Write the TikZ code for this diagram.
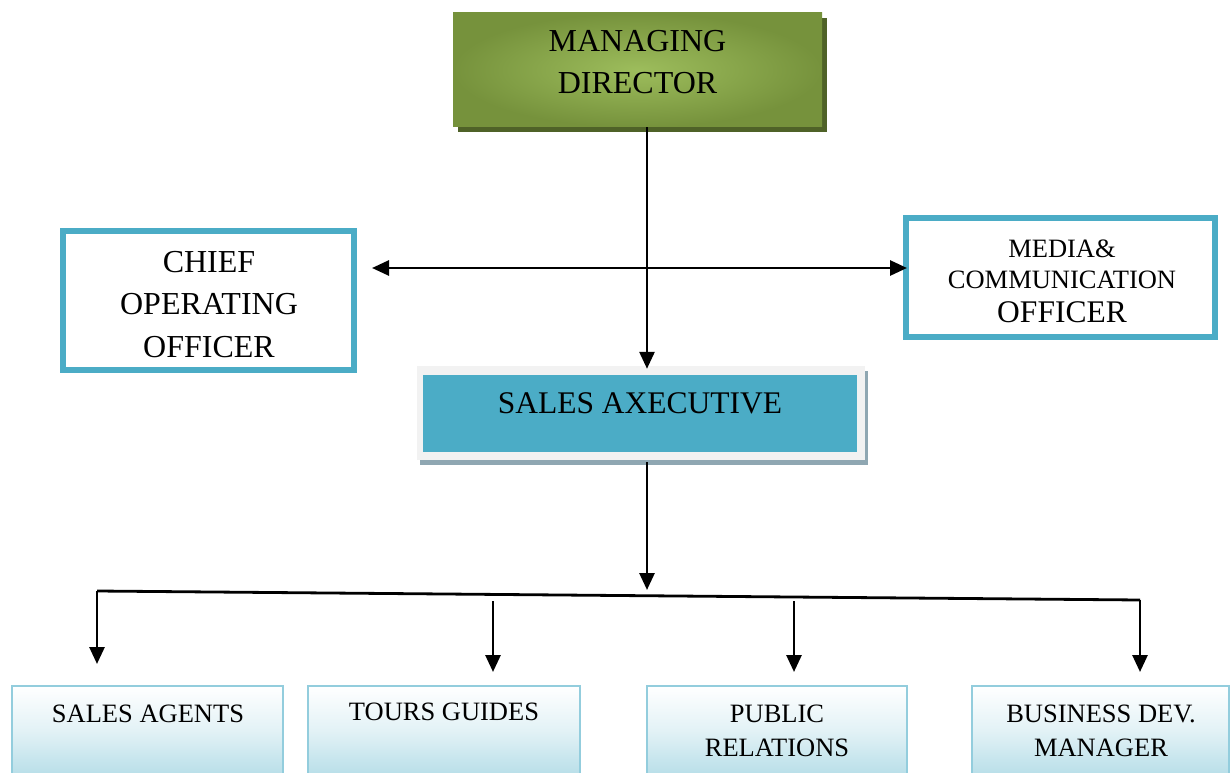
\documentclass[tikz,border=0pt]{standalone}
\usepackage{fontspec}
\setmainfont{Liberation Serif}
\usetikzlibrary{arrows.meta,shadows,calc}
\definecolor{mdlight}{HTML}{9DBD5C}
\definecolor{mddark}{HTML}{76923C}
\definecolor{mdshadow}{HTML}{4F6228}
\definecolor{tealc}{HTML}{4BACC6}
\definecolor{frameg}{HTML}{F2F2F2}
\definecolor{seshadow}{HTML}{8FA7B2}
\definecolor{lbord}{HTML}{93CDDD}
\definecolor{lfill}{HTML}{B7DEE8}
\tikzset{
  mdbox/.style={shading=radial, inner color=mdlight, outer color=mddark, inner sep=0pt,
    drop shadow={shadow xshift=5pt, shadow yshift=-5pt, fill=mdshadow, opacity=1}},
  sideframe/.style={draw=tealc, line width=6pt, fill=white, inner sep=0pt},
  seframebox/.style={fill=frameg, inner sep=0pt,
    drop shadow={shadow xshift=3pt, shadow yshift=-5pt, fill=seshadow, opacity=1}},
  seinner/.style={fill=tealc, inner sep=0pt},
  lowbox/.style={draw=lbord, line width=2pt, top color=white, bottom color=lfill, middle color=lfill!40, inner sep=0pt},
  bigtxt/.style={font=\fontsize{32}{42.5}\selectfont, align=center, inner sep=0pt},
  smalltxt/.style={font=\fontsize{26.5}{34}\selectfont, align=center, inner sep=0pt},
  conn/.style={line width=2.8pt, draw=black},
  arr/.style={conn, -{Triangle[length=17pt,width=15pt]}},
  darr/.style={conn, {Triangle[length=17pt,width=15pt]}-{Triangle[length=17pt,width=15pt]}}
}
\begin{document}
\begin{tikzpicture}[x=1pt,y=-1pt]
\clip (0,0) rectangle (1231,773);
\fill[white] (0,0) rectangle (1231,773);

% boxes
\node[mdbox, minimum width=369pt, minimum height=114pt] (md) at (637.5,70) {};
\node[bigtxt, font=\fontsize{32}{42}\selectfont] (mdtext) at (637.5,62.5) {MANAGING\\DIRECTOR};

\node[sideframe, minimum width=291pt, minimum height=139pt] (chief) at (208.5,300.5) {};
\node[bigtxt] (chieftext) at (209,304.5) {CHIEF\\OPERATING\\OFFICER};

\node[sideframe, minimum width=309pt, minimum height=119pt] (media) at (1060.5,277.5) {};
\node[align=center, inner sep=0pt, font=\fontsize{26.5}{31}\selectfont] (mediatext) at (1062,281)
  {MEDIA\&\\COMMUNICATION\\[3pt]{\fontsize{31.5}{34}\selectfont OFFICER}};

\node[seframebox, minimum width=448pt, minimum height=94pt] (seframe) at (641,413) {};
\node[seinner, minimum width=434pt, minimum height=77pt] (se) at (640,413.5) {};
\node[anchor=base, inner sep=0pt, font=\fontsize{31.5}{36}\selectfont] (setext) at (640,413) {SALES AXECUTIVE};

\node[lowbox, minimum width=271pt, minimum height=90pt] (sa) at (147.5,731) {};
\node[smalltxt, anchor=base] (satext) at (148,722) {SALES AGENTS};
\node[lowbox, minimum width=272pt, minimum height=90pt] (tg) at (444,731) {};
\node[smalltxt, anchor=base] (tgtext) at (444,720) {TOURS GUIDES};
\node[lowbox, minimum width=260pt, minimum height=90pt] (pr) at (777,731) {};
\node[smalltxt] (prtext) at (777,730.5) {PUBLIC\\RELATIONS};
\node[lowbox, minimum width=257pt, minimum height=90pt] (bd) at (1100.5,731) {};
\node[smalltxt] (bdtext) at (1101,730.5) {BUSINESS DEV.\\MANAGER};

% connectors
\coordinate (trunk) at (647,0);
\coordinate (hl) at (372,268);
\draw[arr] (md.south -| trunk) -- ([yshift=-3pt]seframe.north -| trunk);
\draw[darr] (hl) -- ([xshift=4pt]media.west |- hl);

\coordinate (busmid) at (647,590);
\coordinate (b1) at (97,591);
\coordinate (b2) at (493,601);
\coordinate (b3) at (794,601);
\coordinate (b4) at (1140,600);
\draw[arr] ([yshift=-2pt]seframe.south -| trunk) -- (busmid);
\draw[conn] (b1) -- (b4);
\draw[arr] (b1) -- ([yshift=21pt]sa.north -| b1);
\draw[arr] (b2) -- ([yshift=13pt]tg.north -| b2);
\draw[arr] (b3) -- ([yshift=13pt]pr.north -| b3);
\draw[arr] (b4) -- ([yshift=13pt]bd.north -| b4);
\end{tikzpicture}
\end{document}
